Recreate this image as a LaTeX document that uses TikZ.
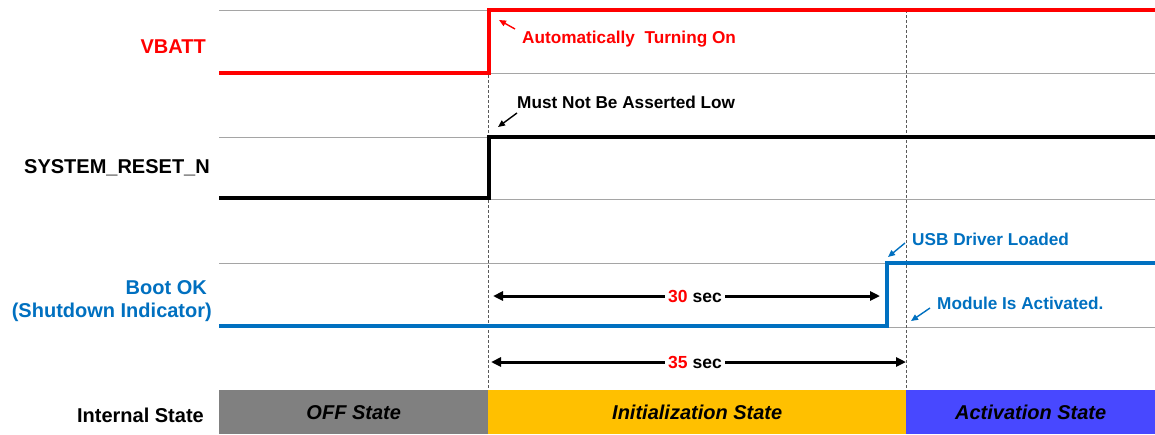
\documentclass[tikz,border=0pt]{standalone}
\usepackage{fontspec}
\setmainfont{Liberation Sans}
\usetikzlibrary{arrows.meta}
\definecolor{vred}{RGB}{255,0,0}
\definecolor{bblue}{RGB}{0,112,192}
\definecolor{offgray}{RGB}{128,128,128}
\definecolor{inityel}{RGB}{255,192,0}
\definecolor{actblue}{RGB}{72,72,255}
\definecolor{gridgray}{RGB}{165,165,165}
\tikzset{
  gridline/.style={draw=gridgray, line width=0.9pt},
  vdash/.style={draw=black!65, line width=0.8pt, dash pattern=on 3pt off 2pt},
  sig/.style={line width=3.5pt, line join=miter},
  lbl/.style={font=\fontsize{20}{24}\selectfont\bfseries, inner sep=0pt, anchor=base east},
  ann/.style={font=\fontsize{17.2}{21}\selectfont\bfseries, inner sep=0pt, anchor=base west},
  annarrow/.style={line width=1.4pt, -{Triangle[length=7pt,width=6pt]}},
  dimarrow/.style={line width=3pt, {Triangle[length=10pt,width=9pt]}-{Triangle[length=10pt,width=9pt]}},
  dimlbl/.style={font=\fontsize{17.5}{21}\selectfont\bfseries, fill=white, inner xsep=3pt, inner ysep=1pt},
  statebox/.style={draw=none, minimum height=44pt, inner sep=0pt, font=\fontsize{20}{24}\selectfont\bfseries\itshape, anchor=north west},
}
\begin{document}
\begin{tikzpicture}[x=1pt,y=-1pt]
\useasboundingbox (0,0) rectangle (1155,434);
% grid lines
\foreach \yy in {10,73,137,199,263,327}
  \draw[gridline] (219,\yy) -- (1155,\yy);
% vertical dashed markers
\coordinate (d1t) at (488,10);
\coordinate (d1b) at (488,390);
\coordinate (d2t) at (906,10);
\coordinate (d2b) at (906,390);
\draw[vdash] (d1t) -- (d1b);
\draw[vdash] (d2t) -- (d2b);
% VBATT
\coordinate (v0) at (219,73);
\coordinate (v1) at (489,73);
\coordinate (v2) at (489,10);
\coordinate (v3) at (1155,10);
\draw[sig, vred] (v0) -- (v1) -- (v2) -- (v3);
% SYSTEM_RESET_N
\coordinate (r0) at (219,198);
\coordinate (r1) at (489,198);
\coordinate (r2) at (489,137);
\coordinate (r3) at (1155,137);
\draw[sig, black] (r0) -- (r1) -- (r2) -- (r3);
% Boot OK
\coordinate (b0) at (219,326);
\coordinate (b1) at (887,326);
\coordinate (b2) at (887,263);
\coordinate (b3) at (1155,263);
\draw[sig, bblue] (b0) -- (b1) -- (b2) -- (b3);
% left labels
\node[lbl, text=vred] (lvbatt) at (206,53) {VBATT};
\node[lbl] (lreset) at (210,173) {SYSTEM\_RESET\_N};
\node[lbl, text=bblue] (lboot1) at (207,294) {Boot OK};
\node[lbl, text=bblue] (lboot2) at (212,317) {(Shutdown Indicator)};
\node[lbl] (lstate) at (204,422) {Internal State};
% annotations
\node[ann, text=vred] (aauto) at (522,43) {Automatically\ \ Turning On};
\coordinate (aautoT) at (515,29);
\coordinate (aautoH) at (499,20);
\draw[annarrow, vred] (aautoT) -- (aautoH);
\node[ann] (amust) at (517,108) {Must Not Be Asserted Low};
\coordinate (amustT) at (517,113);
\coordinate (amustH) at (498,127);
\draw[annarrow, black] (amustT) -- (amustH);
\node[ann, text=bblue] (ausb) at (912,245) {USB Driver Loaded};
\coordinate (ausbT) at (905,243);
\coordinate (ausbH) at (888,257);
\draw[annarrow, bblue] (ausbT) -- (ausbH);
\node[ann, text=bblue] (amod) at (937,309) {Module Is Activated.};
\coordinate (amodT) at (930,308);
\coordinate (amodH) at (911,321);
\draw[annarrow, bblue] (amodT) -- (amodH);
% dimension arrows
\coordinate (t30a) at (493,296);
\coordinate (t30b) at (880,296);
\draw[dimarrow] (t30a) -- (t30b);
\node[dimlbl] (l30) at (695,296) {\textcolor{vred}{30} sec};
\coordinate (t35a) at (491,362);
\coordinate (t35b) at (906,362);
\draw[dimarrow] (t35a) -- (t35b);
\node[dimlbl] (l35) at (695,362) {\textcolor{vred}{35} sec};
% state bar
\node[statebox, fill=offgray, minimum width=269pt] (soff) at (219,390) {\raisebox{-2.5pt}{OFF State}};
\node[statebox, fill=inityel, minimum width=418pt] (sinit) at (488,390) {\raisebox{-2.5pt}{Initialization State}};
\node[statebox, fill=actblue, minimum width=249pt] (sact) at (906,390) {\raisebox{-2.5pt}{Activation State}};
\end{tikzpicture}
\end{document}
